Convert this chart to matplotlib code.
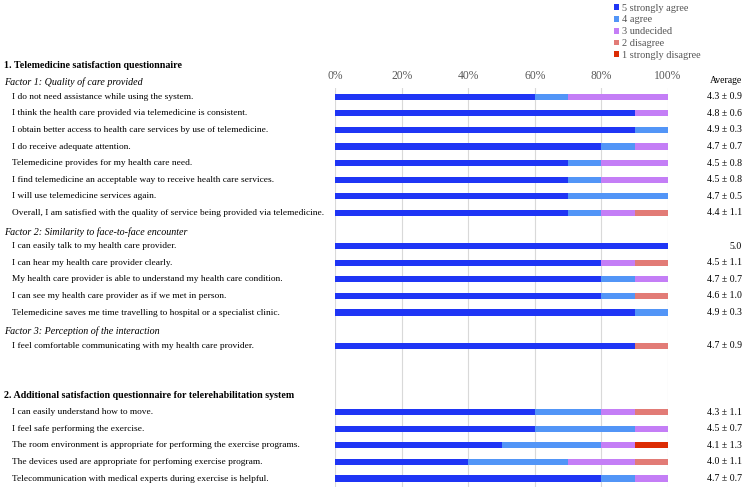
import numpy as np
import matplotlib
matplotlib.use("Agg")
import matplotlib.pyplot as plt
from matplotlib.transforms import blended_transform_factory

plt.rcParams["font.family"] = ["Liberation Serif", "DejaVu Serif"]

# ── Data ──────────────────────────────────────────────────────────────────────
questions = [
    "I do not need assistance while using the system.",
    "I think the health care provided via telemedicine is consistent.",
    "I obtain better access to health care services by use of telemedicine.",
    "I do receive adequate attention.",
    "Telemedicine provides for my health care need.",
    "I find telemedicine an acceptable way to receive health care services.",
    "I will use telemedicine services again.",
    "Overall, I am satisfied with the quality of service being provided via telemedicine.",
    "I can easily talk to my health care provider.",
    "I can hear my health care provider clearly.",
    "My health care provider is able to understand my health care condition.",
    "I can see my health care provider as if we met in person.",
    "Telemedicine saves me time travelling to hospital or a specialist clinic.",
    "I feel comfortable communicating with my health care provider.",
    "I can easily understand how to move.",
    "I feel safe performing the exercise.",
    "The room environment is appropriate for performing the exercise programs.",
    "The devices used are appropriate for perfoming exercise program.",
    "Telecommunication with medical experts during exercise is helpful.",
]
# row slot of each question (blank slots hold the headings)
slots = [0, 1, 2, 3, 4, 5, 6, 7, 9, 10, 11, 12, 13, 15, 19, 20, 21, 22, 23]

strongly_agree = [60, 90, 90, 80, 70, 70, 70, 70, 100, 80, 80, 80, 90, 90, 60, 60, 50, 40, 80]
agree = [10, 0, 10, 10, 10, 10, 30, 10, 0, 0, 10, 10, 10, 0, 20, 30, 30, 30, 10]
undecided = [30, 10, 0, 10, 20, 20, 0, 10, 0, 10, 10, 0, 0, 0, 10, 10, 10, 20, 10]
disagree = [0, 0, 0, 0, 0, 0, 0, 10, 0, 10, 0, 10, 0, 10, 10, 0, 0, 10, 0]
strongly_disagree = [0, 0, 0, 0, 0, 0, 0, 0, 0, 0, 0, 0, 0, 0, 0, 0, 10, 0, 0]

averages = ["4.3 ± 0.9", "4.8 ± 0.6", "4.9 ± 0.3", "4.7 ± 0.7", "4.5 ± 0.8",
            "4.5 ± 0.8", "4.7 ± 0.5", "4.4 ± 1.1", "5.0", "4.5 ± 1.1",
            "4.7 ± 0.7", "4.6 ± 1.0", "4.9 ± 0.3", "4.7 ± 0.9", "4.3 ± 1.1",
            "4.5 ± 0.7", "4.1 ± 1.3", "4.0 ± 1.1", "4.7 ± 0.7"]

sections = [(-1.9, "1. Telemedicine satisfaction questionnaire"),
            (18.0, "2. Additional satisfaction questionnaire for telerehabilitation system")]
factors = [(-0.9, "Factor 1: Quality of care provided"),
           (8.15, "Factor 2: Similarity to face-to-face encounter"),
           (14.15, "Factor 3: Perception of the interaction")]

series = [
    ("5 strongly agree", strongly_agree, "#1f35f5"),
    ("4 agree", agree, "#5295f7"),
    ("3 undecided", undecided, "#c47ef6"),
    ("2 disagree", disagree, "#e27b76"),
    ("1 strongly disagree", strongly_disagree, "#dc2c04"),
]

# ── Figure ────────────────────────────────────────────────────────────────────
W, H = 749, 492
fig = plt.figure(figsize=(W / 100, H / 100), dpi=100)
ax = fig.add_axes([335 / W, 1 - 487 / H, 333 / W, (487 - 88) / H])

left = np.zeros(len(slots))
handles = []
for label, vals, color in series:
    vals = np.array(vals, dtype=float)
    b = ax.barh(slots, vals, left=left, height=0.37, color=color, label=label, zorder=2)
    handles.append(b)
    left += vals

ax.set_xlim(0, 100)
ax.set_ylim(23.51, -0.524)
ax.set_xticks(np.arange(0, 101, 20))
ax.set_xticklabels([f"{v}%" for v in range(0, 101, 20)])
ax.xaxis.tick_top()
ax.tick_params(axis="x", length=0, pad=4, labelsize=8.4, labelcolor="#595959")
ax.set_yticks([])
ax.grid(axis="x", color="#d9d9d9", lw=0.8, zorder=0)
for s in ax.spines.values():
    s.set_visible(False)

tr = blended_transform_factory(fig.transFigure, ax.transData)
fs = 6.75
for y, q, avg in zip(slots, questions, averages):
    ax.text(12 / W, y, q, transform=tr, ha="left", va="center", fontsize=fs, clip_on=False)
    ax.text(742 / W, y, avg, transform=tr, ha="right", va="center", fontsize=7, clip_on=False)
for y, t in sections:
    ax.text(4 / W, y, t, transform=tr, ha="left", va="center", fontsize=7.2,
            fontweight="bold", clip_on=False)
for y, t in factors:
    ax.text(4 / W, y, t, transform=tr, ha="left", va="center", fontsize=7.2,
            fontstyle="italic", clip_on=False)
ax.text(742 / W, -0.98, "Average", transform=tr, ha="right", va="center",
        fontsize=7, clip_on=False)

fig.legend(handles=handles, loc="upper left", bbox_to_anchor=(612 / W, 1 - 1.5 / H),
           frameon=False, fontsize=7.4, handlelength=0.5, handleheight=0.5,
           handletextpad=0.3, labelspacing=0.28, borderaxespad=0, borderpad=0.2,
           labelcolor="#555555")

fig.savefig("out.png", dpi=100)
